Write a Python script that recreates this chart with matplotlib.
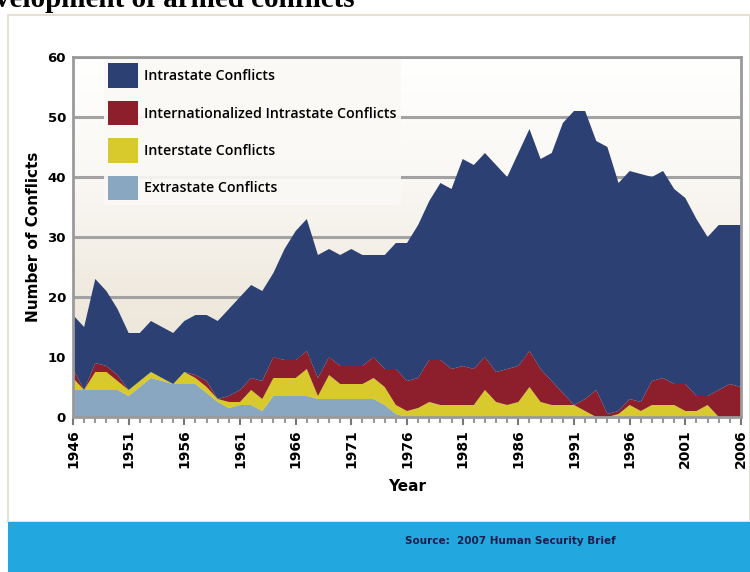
import numpy as np
import matplotlib
matplotlib.use("Agg")
import matplotlib.pyplot as plt
from matplotlib.patches import Rectangle, Patch
from matplotlib.colors import LinearSegmentedColormap
from matplotlib.ticker import MultipleLocator

years = list(range(1946, 2007))

# conflicts per year (stack order bottom -> top)
extrastate = [4.5, 4.5, 4.5, 4.5, 4.5, 3.5, 5, 6.5, 6, 5.5,
              5.5, 5.5, 4, 2.5, 1.5, 2, 2, 1, 3.5, 3.5,
              3.5, 3.5, 3, 3, 3, 3, 3, 3, 2, 0.5,
              0, 0, 0, 0, 0, 0, 0, 0, 0, 0,
              0, 0, 0, 0, 0, 0, 0, 0, 0, 0,
              0, 0, 0, 0, 0, 0, 0, 0, 0, 0, 0]
interstate = [2, 0, 3, 3, 1.5, 1, 1, 1, 0.5, 0,
              2, 1, 1, 0.5, 1, 0.5, 2.5, 2, 3, 3,
              3, 4.5, 0.5, 4, 2.5, 2.5, 2.5, 3.5, 3, 1.5,
              1, 1.5, 2.5, 2, 2, 2, 2, 4.5, 2.5, 2,
              2.5, 5, 2.5, 2, 2, 2, 1, 0, 0, 0.5,
              2, 1, 2, 2, 2, 1, 1, 2, 0, 0, 0]
internationalized = [1.5, 0, 1.5, 1, 1, 0, 0, 0, 0, 0,
                     0, 0.5, 1, 0, 1, 2, 2, 3, 3.5, 3,
                     3, 3, 3, 3, 3, 3, 3, 3.5, 3, 6,
                     5, 5, 7, 7.5, 6, 6.5, 6, 5.5, 5, 6,
                     6, 6, 5.5, 4, 2, 0, 2, 4.5, 0.5, 0.5,
                     1, 1.5, 4, 4.5, 3.5, 4.5, 2.5, 1.5, 4.5, 5.5, 5]
intrastate = [9, 10.5, 14, 12.5, 11, 9.5, 8, 8.5, 8.5, 8.5,
              8.5, 10, 11, 13, 14.5, 15.5, 15.5, 15, 14, 18.5,
              21.5, 22, 20.5, 18, 18.5, 19.5, 18.5, 17, 19, 21,
              23, 25.5, 26.5, 29.5, 30, 34.5, 34, 34, 34.5, 32,
              35.5, 37, 35, 38, 45, 49, 48, 41.5, 44.5, 38,
              38, 38, 34, 34.5, 32.5, 31, 29.5, 26.5, 27.5, 26.5, 27]

labels = ["Extrastate Conflicts", "Interstate Conflicts",
          "Internationalized Intrastate Conflicts", "Intrastate Conflicts"]
colors = ["#8aa7c1", "#d8c92c", "#8d1f2c", "#2c4073"]

W, H = 750, 572
fig = plt.figure(figsize=(7.5, 5.72), dpi=100)
fig.patch.set_facecolor("white")

# outer panel and the blue source band
fig.patches.append(Rectangle((8 / W, 1 - 522 / H), 742 / W, 507 / H, transform=fig.transFigure,
                             facecolor="white", edgecolor="#e4e1d2", linewidth=1.5, zorder=-10))
fig.patches.append(Rectangle((8 / W, 0), 742 / W, 50 / H, transform=fig.transFigure,
                             facecolor="#22a8df", edgecolor="none", zorder=-5))
fig.text(405 / W, 1 - 541 / H, "Source:  2007 Human Security Brief", fontsize=7.5,
         fontweight="bold", color="#1c1d4d", va="center",
         family=["Liberation Sans Narrow", "DejaVu Sans"])

# title, cut off at the top edge like the source image
fig.text(355 / W, 1 - 7 / H, "Development of armed conflicts", ha="right", va="baseline",
         fontsize=21, fontweight="bold", family=["Liberation Serif", "DejaVu Serif"])

ax = fig.add_axes([73 / W, 1 - 417 / H, 668 / W, 360 / H])
ax.set_zorder(5)

# background gradient, white at top to beige lower down
cmap = LinearSegmentedColormap.from_list(
    "bg", [(0, "#ece5d8"), (0.33, "#efe9de"), (0.5, "#f5f1ea"), (0.67, "#faf8f4"), (1, "#ffffff")])
grad = np.linspace(0, 1, 256).reshape(-1, 1)
ax.imshow(grad, cmap=cmap, aspect="auto", extent=(1946, 2006, 0, 60), origin="lower", zorder=0)

ax.stackplot(years, extrastate, interstate, internationalized, intrastate,
             colors=colors, linewidth=0, zorder=1)

ax.set_xlim(1946, 2006)
ax.set_ylim(0, 60)
ax.set_axisbelow(True)
ax.yaxis.grid(True, color="#a2a2a2", linewidth=2.2)

ax.set_yticks(range(0, 61, 10))
ax.set_xticks(range(1946, 2007, 5))
ax.xaxis.set_minor_locator(MultipleLocator(1))
ax.tick_params(axis="y", length=0, pad=5, labelsize=9.5)
ax.tick_params(axis="x", which="major", length=6, width=1.5, color="#777777", labelsize=10,
               labelrotation=90, pad=3)
ax.tick_params(axis="x", which="minor", length=4, width=1.5, color="#999999")
for lab in ax.get_xticklabels() + ax.get_yticklabels():
    lab.set_fontweight("bold")

for side in ["left", "top", "right", "bottom"]:
    ax.spines[side].set_color("#9a9a9a")
    ax.spines[side].set_linewidth(2)

ax.set_xlabel("Year", fontsize=11, fontweight="bold", labelpad=8)
ax.set_ylabel("Number of Conflicts", fontsize=11, fontweight="bold", labelpad=5)

handles = [Patch(facecolor=c, edgecolor="none") for c in colors[::-1]]
leg = ax.legend(handles, labels[::-1], loc="upper left", bbox_to_anchor=(0.046, 0.994),
                borderaxespad=0, handlelength=2.1, handleheight=2.3,
                labelspacing=0.9, handletextpad=0.45, borderpad=0.3,
                frameon=True, facecolor="#fbf9f5", edgecolor="none", framealpha=0.92,
                prop={"family": ["Open Sans", "DejaVu Sans"], "weight": "semibold", "size": 10.2})
leg.get_frame().set_linewidth(0)

fig.savefig("out.png", dpi=100)
